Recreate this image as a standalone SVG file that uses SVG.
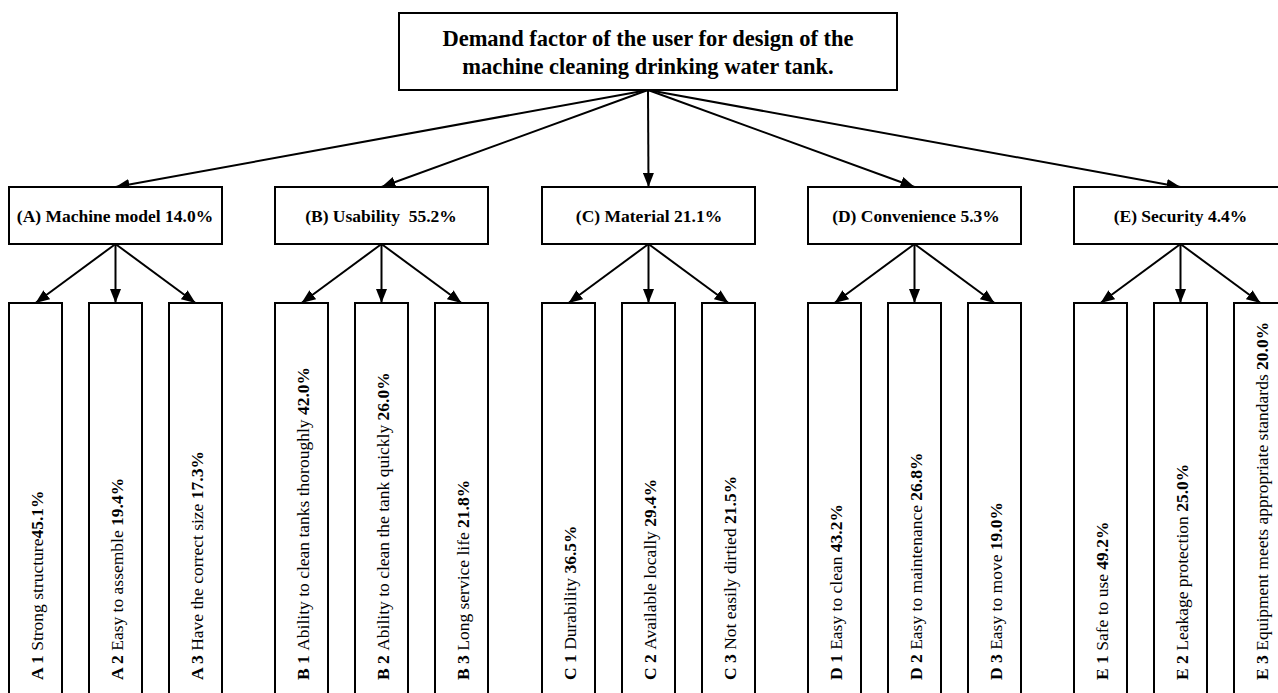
<svg xmlns="http://www.w3.org/2000/svg" width="1278" height="693" viewBox="0 0 1278 693">
<style>
  .box { fill: #ffffff; stroke: #000000; stroke-width: 2; }
  .edge { fill: none; stroke: #000000; stroke-width: 2; marker-end: url(#arrow); }
  .title { font-family: "Liberation Serif", "Times New Roman", serif; font-size: 22.5px; font-weight: bold; fill: #000; text-anchor: middle; }
  .cat { font-family: "Liberation Serif", "Times New Roman", serif; font-size: 17.5px; font-weight: bold; fill: #000; text-anchor: middle; white-space: pre; }
  .leaf { font-family: "Liberation Serif", "Times New Roman", serif; font-size: 17.5px; fill: #000; white-space: pre; }
  .b { font-weight: bold; }
</style>
<defs>
  <marker id="arrow" markerUnits="userSpaceOnUse" markerWidth="15" markerHeight="11" refX="14" refY="5.5" orient="auto">
    <path d="M0,0 L14,5.5 L0,11 z" fill="#000"/>
  </marker>
</defs>
<rect width="1278" height="693" fill="#ffffff"/>

<g id="connectors">
  <line class="edge" x1="648" y1="90" x2="115.5" y2="187"/>
  <line class="edge" x1="648" y1="90" x2="381.5" y2="187"/>
  <line class="edge" x1="648" y1="90" x2="648.5" y2="187"/>
  <line class="edge" x1="648" y1="90" x2="914.5" y2="187"/>
  <line class="edge" x1="648" y1="90" x2="1180.5" y2="187"/>

  <line class="edge" x1="115.5" y1="244" x2="35.5" y2="303"/>
  <line class="edge" x1="115.5" y1="244" x2="115.5" y2="303"/>
  <line class="edge" x1="115.5" y1="244" x2="195.5" y2="303"/>

  <line class="edge" x1="381.5" y1="244" x2="301.5" y2="303"/>
  <line class="edge" x1="381.5" y1="244" x2="381.5" y2="303"/>
  <line class="edge" x1="381.5" y1="244" x2="461.5" y2="303"/>

  <line class="edge" x1="648.5" y1="244" x2="568.5" y2="303"/>
  <line class="edge" x1="648.5" y1="244" x2="648.5" y2="303"/>
  <line class="edge" x1="648.5" y1="244" x2="728.5" y2="303"/>

  <line class="edge" x1="914.5" y1="244" x2="834.5" y2="303"/>
  <line class="edge" x1="914.5" y1="244" x2="914.5" y2="303"/>
  <line class="edge" x1="914.5" y1="244" x2="994.5" y2="303"/>

  <line class="edge" x1="1180.5" y1="244" x2="1100.5" y2="303"/>
  <line class="edge" x1="1180.5" y1="244" x2="1180.5" y2="303"/>
  <line class="edge" x1="1180.5" y1="244" x2="1260.5" y2="303"/>
</g>

<g id="root">
  <rect class="box" x="399" y="13" width="498" height="77"/>
  <text class="title" x="648" y="45.5">Demand factor of the user for design of the</text>
  <text class="title" x="648" y="73.5">machine cleaning drinking water tank.</text>
</g>

<g id="catA">
  <rect class="box" x="9" y="187" width="213" height="57"/>
  <text class="cat" x="115" y="222">(A) Machine model 14.0%</text>
</g>
<g id="catB">
  <rect class="box" x="275" y="187" width="213" height="57"/>
  <text class="cat" x="381" y="222">(B) Usability  55.2%</text>
</g>
<g id="catC">
  <rect class="box" x="542" y="187" width="213" height="57"/>
  <text class="cat" x="649" y="222">(C) Material 21.1%</text>
</g>
<g id="catD">
  <rect class="box" x="808" y="187" width="213" height="57"/>
  <text class="cat" x="916" y="222">(D) Convenience 5.3%</text>
</g>
<g id="catE">
  <rect class="box" x="1074" y="187" width="213" height="57"/>
  <text class="cat" x="1180.5" y="222">(E) Security 4.4%</text>
</g>

<g id="A1">
  <rect class="box" x="9" y="303" width="53" height="400"/>
  <text class="leaf" transform="translate(42.5,680) rotate(-90)"><tspan class="b">A 1 </tspan>Strong structure<tspan class="b">45.1%</tspan></text>
</g>
<g id="A2">
  <rect class="box" x="89" y="303" width="53" height="400"/>
  <text class="leaf" transform="translate(122.5,680) rotate(-90)"><tspan class="b">A 2 </tspan>Easy to assemble <tspan class="b">19.4%</tspan></text>
</g>
<g id="A3">
  <rect class="box" x="169" y="303" width="53" height="400"/>
  <text class="leaf" transform="translate(202.5,680) rotate(-90)"><tspan class="b">A 3 </tspan>Have the correct size <tspan class="b">17.3%</tspan></text>
</g>

<g id="B1">
  <rect class="box" x="275" y="303" width="53" height="400"/>
  <text class="leaf" transform="translate(308.5,680) rotate(-90)"><tspan class="b">B 1 </tspan>Ability to clean tanks thoroughly <tspan class="b">42.0%</tspan></text>
</g>
<g id="B2">
  <rect class="box" x="355" y="303" width="53" height="400"/>
  <text class="leaf" transform="translate(388.5,680) rotate(-90)"><tspan class="b">B 2 </tspan>Ability to clean the tank quickly <tspan class="b">26.0%</tspan></text>
</g>
<g id="B3">
  <rect class="box" x="435" y="303" width="53" height="400"/>
  <text class="leaf" transform="translate(468.5,680) rotate(-90)"><tspan class="b">B 3 </tspan>Long service life <tspan class="b">21.8%</tspan></text>
</g>

<g id="C1">
  <rect class="box" x="542" y="303" width="53" height="400"/>
  <text class="leaf" transform="translate(575.5,680) rotate(-90)"><tspan class="b">C 1 </tspan>Durability <tspan class="b">36.5%</tspan></text>
</g>
<g id="C2">
  <rect class="box" x="622" y="303" width="53" height="400"/>
  <text class="leaf" transform="translate(655.5,680) rotate(-90)"><tspan class="b">C 2 </tspan>Available locally <tspan class="b">29.4%</tspan></text>
</g>
<g id="C3">
  <rect class="box" x="702" y="303" width="53" height="400"/>
  <text class="leaf" transform="translate(735.5,680) rotate(-90)"><tspan class="b">C 3 </tspan>Not easily dirtied <tspan class="b">21.5%</tspan></text>
</g>

<g id="D1">
  <rect class="box" x="808" y="303" width="53" height="400"/>
  <text class="leaf" transform="translate(841.5,680) rotate(-90)"><tspan class="b">D 1 </tspan>Easy to clean <tspan class="b">43.2%</tspan></text>
</g>
<g id="D2">
  <rect class="box" x="888" y="303" width="53" height="400"/>
  <text class="leaf" transform="translate(921.5,680) rotate(-90)"><tspan class="b">D 2 </tspan>Easy to maintenance <tspan class="b">26.8%</tspan></text>
</g>
<g id="D3">
  <rect class="box" x="968" y="303" width="53" height="400"/>
  <text class="leaf" transform="translate(1001.5,680) rotate(-90)"><tspan class="b">D 3 </tspan>Easy to move <tspan class="b">19.0%</tspan></text>
</g>

<g id="E1">
  <rect class="box" x="1074" y="303" width="53" height="400"/>
  <text class="leaf" transform="translate(1107.5,680) rotate(-90)"><tspan class="b">E 1 </tspan>Safe to use <tspan class="b">49.2%</tspan></text>
</g>
<g id="E2">
  <rect class="box" x="1154" y="303" width="53" height="400"/>
  <text class="leaf" transform="translate(1187.5,680) rotate(-90)"><tspan class="b">E 2 </tspan>Leakage protection <tspan class="b">25.0%</tspan></text>
</g>
<g id="E3">
  <rect class="box" x="1234" y="303" width="53" height="400"/>
  <text class="leaf" transform="translate(1267.5,680) rotate(-90)"><tspan class="b">E 3 </tspan>Equipment meets appropriate standards <tspan class="b">20.0%</tspan></text>
</g>
</svg>
